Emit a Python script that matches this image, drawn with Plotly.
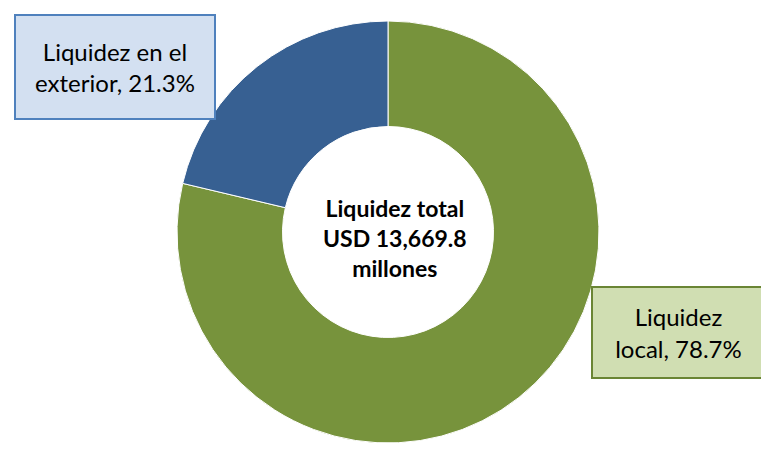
import plotly.graph_objects as go

# Data
labels = ['Liquidez local', 'Liquidez en el exterior']
shares = [78.7, 21.3]
colors = ['#77933C', '#376092']
total_usd = '13,669.8'

W, H = 769, 456
OFF = 8  # page body margin shifts the figure by 8px


def px_x(x):
    return (x - OFF) / W


def px_y(y):
    return 1 - (y - OFF) / H


fig = go.Figure(go.Pie(
    labels=labels,
    values=shares,
    hole=0.5,
    sort=False,
    direction='clockwise',
    rotation=0,
    marker=dict(colors=colors, line=dict(color='white', width=1)),
    textinfo='none',
    hoverinfo='label+percent',
    showlegend=False,
    domain=dict(x=[px_x(388 - 211), px_x(388 + 211)],
                y=[px_y(443), px_y(21)]),
))

font_name = 'Lato, Liberation Sans, sans-serif'

# center label
fig.add_annotation(
    x=px_x(395), y=px_y(238), xref='paper', yref='paper',
    text=f'<b>Liquidez total<br>USD {total_usd}<br>millones</b>',
    showarrow=False, align='center',
    font=dict(family=font_name, size=23, color='black'),
)

# callout boxes
fig.add_annotation(
    x=px_x(114.5), y=px_y(67.5), xref='paper', yref='paper',
    xanchor='center', yanchor='middle',
    text=f'Liquidez en el<br>exterior, {shares[1]}%',
    showarrow=False, align='center', valign='middle',
    width=196, height=100, borderpad=1,
    bgcolor='#D3E0F1', bordercolor='#4F81BD', borderwidth=2,
    font=dict(family=font_name, size=24, color='black'),
)
fig.add_annotation(
    x=px_x(678.5), y=px_y(332.5), xref='paper', yref='paper',
    xanchor='center', yanchor='middle',
    text=f'Liquidez<br>local, {shares[0]}%',
    showarrow=False, align='center', valign='middle',
    width=169, height=87, borderpad=1,
    bgcolor='#D0DEB2', bordercolor='#6A8534', borderwidth=2,
    font=dict(family=font_name, size=24, color='black'),
)

fig.update_layout(
    width=W, height=H,
    margin=dict(l=0, r=0, t=0, b=0),
    paper_bgcolor='white',
    plot_bgcolor='white',
)

fig.write_html("out.html")
